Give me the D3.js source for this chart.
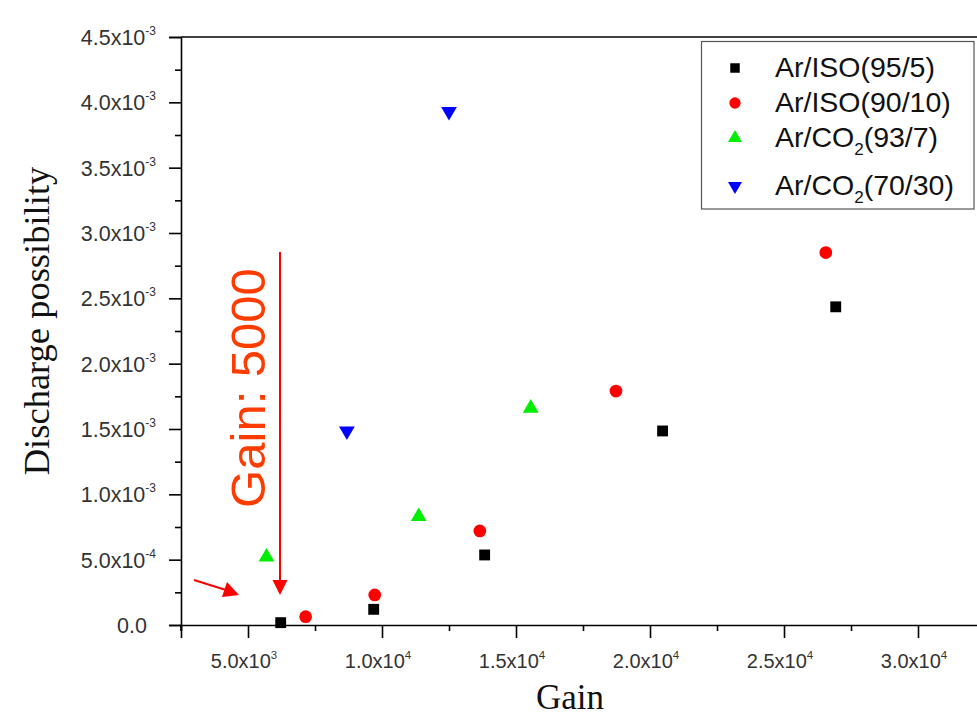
<!DOCTYPE html>
<html>
<head>
<meta charset="utf-8">
<script src="https://cdn.jsdelivr.net/npm/d3@7"></script>
<style>
  html, body { margin: 0; padding: 0; background: #fff; }
  svg { display: block; }
</style>
</head>
<body>
<svg id="chart" width="977" height="718"></svg>
<script>
// ---------------- data ----------------
const seriesNames = ["Ar/ISO(95/5)", "Ar/ISO(90/10)", "Ar/CO2(93/7)", "Ar/CO2(70/30)"];
const isoA_gain = [6220, 9690, 13830, 20470, 26930];
const isoA_prob = [0.000018, 0.00012, 0.000536, 0.001485, 0.002435];
const isoB_gain = [7150, 9730, 13650, 18730, 26560];
const isoB_prob = [0.000064, 0.00023, 0.00072, 0.00179, 0.00285];
const co2A_gain = [5690, 11370, 15550];
const co2A_prob = [0.00052, 0.00083, 0.00166];
const co2B_gain = [8690, 12500];
const co2B_prob = [0.001485, 0.00393];

const xMajorTicks = [5000, 10000, 15000, 20000, 25000, 30000];
const xTickMantissa = ["5.0", "1.0", "1.5", "2.0", "2.5", "3.0"];
const xTickExp = ["3", "4", "4", "4", "4", "4"];
const yMajorTicks = [0, 0.0005, 0.001, 0.0015, 0.002, 0.0025, 0.003, 0.0035, 0.004, 0.0045];
const yTickMantissa = ["0.0", "5.0", "1.0", "1.5", "2.0", "2.5", "3.0", "3.5", "4.0", "4.5"];
const yTickExp = ["", "-4", "-3", "-3", "-3", "-3", "-3", "-3", "-3", "-3"];
const annotationGain = 5000;

// ---------------- setup ----------------
const svg = d3.select("#chart");
const x = d3.scaleLinear().domain([2500, 32500]).range([181, 985]);
const y = d3.scaleLinear().domain([0, 0.0045]).range([625, 37]);

const xMinor = d3.range(2500, 32501, 2500).filter(v => !xMajorTicks.includes(v));
const yMinor = d3.range(0.00025, 0.0045, 0.0005);

// frame top line
svg.append("line").attr("x1", x(2500)).attr("x2", 977).attr("y1", y(0.0045)).attr("y2", y(0.0045))
  .attr("stroke", "#000").attr("stroke-width", 1.6);

// Y axis
const yAxisG = svg.append("g").attr("transform", `translate(${x(2500)},0)`);
yAxisG.call(d3.axisLeft(y).tickValues(yMajorTicks).tickSize(12).tickFormat(""));
const yMinorG = svg.append("g").attr("transform", `translate(${x(2500)},0)`);
yMinorG.call(d3.axisLeft(y).tickValues(yMinor).tickSize(6).tickFormat(""));
yMinorG.select(".domain").remove();

// X axis
const xAxisG = svg.append("g").attr("transform", `translate(0,${y(0)})`);
xAxisG.call(d3.axisBottom(x).tickValues(xMajorTicks).tickSize(13).tickFormat(""));
const xMinorG = svg.append("g").attr("transform", `translate(0,${y(0)})`);
xMinorG.call(d3.axisBottom(x).tickValues(xMinor).tickSize(6).tickFormat(""));
xMinorG.select(".domain").remove();

svg.selectAll(".domain").attr("stroke", "#000").attr("stroke-width", 1.6);
svg.selectAll(".tick line").attr("stroke", "#000").attr("stroke-width", 1.6);
svg.append("line").attr("x1", x(2500)).attr("x2", x(2500)).attr("y1", y(0)).attr("y2", y(0) + 6)
  .attr("stroke", "#000").attr("stroke-width", 1.6);

// Y tick labels
const yLab = svg.append("g").attr("font-family", "Liberation Sans, Arial, sans-serif").attr("fill", "#333");
yMajorTicks.forEach((v, i) => {
  const t = yLab.append("text").attr("x", yTickExp[i] ? 156 : 147).attr("y", y(v) + 8)
    .attr("text-anchor", "end").attr("font-size", 21.5);
  t.append("tspan").text(yTickMantissa[i] + (yTickExp[i] ? "x10" : ""));
  if (yTickExp[i]) {
    t.append("tspan").attr("dy", -10).attr("font-size", 12).text(yTickExp[i]);
  }
});

// X tick labels
const xLab = svg.append("g").attr("font-family", "Liberation Sans, Arial, sans-serif").attr("fill", "#333");
xMajorTicks.forEach((v, i) => {
  const t = xLab.append("text").attr("x", x(v) - 4).attr("y", 668)
    .attr("text-anchor", "middle").attr("font-size", 20);
  t.append("tspan").text(xTickMantissa[i] + "x10");
  t.append("tspan").attr("dy", -9).attr("font-size", 11.5).text(xTickExp[i]);
});

// Axis titles
svg.append("text").attr("x", 570).attr("y", 709).attr("text-anchor", "middle")
  .attr("font-family", "Liberation Serif, Times New Roman, serif").attr("font-size", 35)
  .attr("fill", "#111").text("Gain");
svg.append("text").attr("transform", "translate(49,321) rotate(-90)").attr("text-anchor", "middle")
  .attr("font-family", "Liberation Serif, Times New Roman, serif").attr("font-size", 36.5)
  .attr("fill", "#111").text("Discharge possibility");

// ---------------- markers ----------------
const sqSym = d3.symbol().type(d3.symbolSquare).size(118);
const ciSym = d3.symbol().type(d3.symbolCircle).size(127);
const trSym = d3.symbol().type(d3.symbolTriangle).size(108);

function drawSeries(gains, probs, sym, color, rot) {
  svg.append("g").selectAll("path").data(gains.map((g, i) => [g, probs[i]])).join("path")
    .attr("d", sym)
    .attr("transform", d => `translate(${x(d[0])},${y(d[1])}) rotate(${rot})`)
    .attr("fill", color);
}
drawSeries(isoA_gain, isoA_prob, sqSym, "#000000", 0);
drawSeries(isoB_gain, isoB_prob, ciSym, "#ff0000", 0);
drawSeries(co2A_gain, co2A_prob, trSym, "#00ee00", 0);
drawSeries(co2B_gain, co2B_prob, trSym, "#0000ff", 180);

// ---------------- annotations ----------------
const ax = x(annotationGain) + 32;
svg.append("line").attr("x1", ax).attr("x2", ax).attr("y1", 252).attr("y2", 581)
  .attr("stroke", "#ff0000").attr("stroke-width", 2);
svg.append("path").attr("d", `M${ax - 7.5},580 L${ax + 7.5},580 L${ax},595 Z`).attr("fill", "#ff0000");

svg.append("line").attr("x1", 194).attr("y1", 580).attr("x2", 226).attr("y2", 590)
  .attr("stroke", "#ff0000").attr("stroke-width", 2);
svg.append("path").attr("d", "M239,595 L222,597 L227,582 Z").attr("fill", "#ff0000");

svg.append("text").attr("transform", "translate(265,388) rotate(-90)").attr("text-anchor", "middle")
  .attr("font-family", "Liberation Sans, Arial, sans-serif").attr("font-size", 49)
  .attr("fill", "#ff3c00").text("Gain: " + annotationGain);

// ---------------- legend ----------------
const lg = svg.append("g");
lg.append("rect").attr("x", 701.5).attr("y", 41.5).attr("width", 272.5).attr("height", 167.5)
  .attr("fill", "#fff").attr("stroke", "#555").attr("stroke-width", 1.2);
const legendRows = [
  { sym: d3.symbol().type(d3.symbolSquare).size(90), color: "#000", rot: 0, y: 68, ty: 77 },
  { sym: d3.symbol().type(d3.symbolCircle).size(100), color: "#ff0000", rot: 0, y: 103, ty: 112 },
  { sym: d3.symbol().type(d3.symbolTriangle).size(85), color: "#00ee00", rot: 0, y: 138, ty: 147 },
  { sym: d3.symbol().type(d3.symbolTriangle).size(85), color: "#0000ff", rot: 180, y: 186, ty: 195 }
];
legendRows.forEach((r, i) => {
  lg.append("path").attr("d", r.sym).attr("fill", r.color)
    .attr("transform", `translate(735,${r.y}) rotate(${r.rot})`);
  const t = lg.append("text").attr("x", 775).attr("y", r.ty)
    .attr("font-family", "Liberation Sans, Arial, sans-serif").attr("font-size", 28.5).attr("fill", "#111");
  const name = seriesNames[i];
  const m = name.match(/^(.*CO)2(.*)$/);
  if (m) {
    t.append("tspan").text(m[1]);
    t.append("tspan").attr("dy", 8).attr("font-size", 17).text("2");
    t.append("tspan").attr("dy", -8).text(m[2]);
  } else {
    t.text(name);
  }
});
</script>
</body>
</html>
